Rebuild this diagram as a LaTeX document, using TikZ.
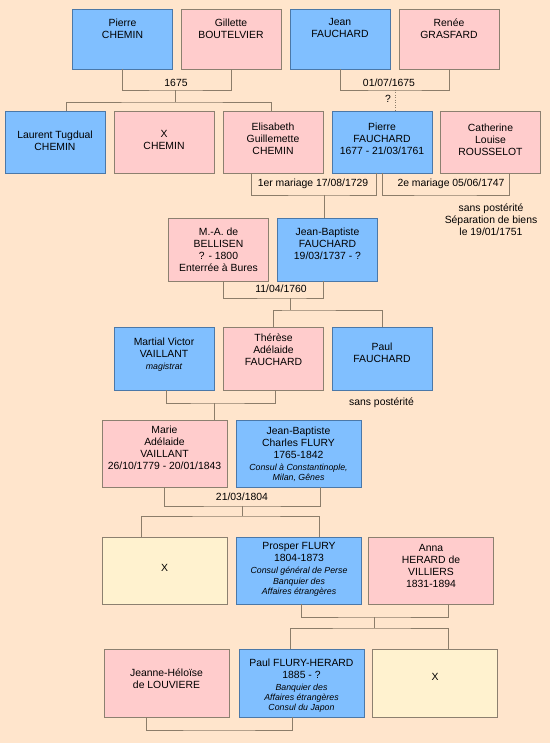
\documentclass[tikz,border=0pt]{standalone}
\usepackage{fontspec}
\setmainfont{Liberation Sans}
\usepackage{tikz}
\usetikzlibrary{positioning}

\definecolor{paper}{HTML}{FFE5CC}
\definecolor{manfill}{HTML}{80BFFF}
\definecolor{manline}{HTML}{4B78A8}
\definecolor{womanfill}{HTML}{FFCCCC}
\definecolor{nobodyfill}{HTML}{FFF2CF}
\definecolor{boxline}{HTML}{8C8070}
\definecolor{linkline}{HTML}{8C7D6A}

\newcommand{\metier}[1]{{\fontsize{8.8}{10.5}\selectfont\itshape #1}}

\begin{document}
\begin{tikzpicture}[
    x=1pt, y=-1pt,
    box/.style={draw=boxline, line width=0.9pt, inner sep=0pt, minimum width=100pt, minimum height=63pt},
    wide/.style={minimum width=125pt, minimum height=67pt},
    man/.style={box, fill=manfill, draw=manline},
    woman/.style={box, fill=womanfill},
    nobody/.style={box, fill=nobodyfill},
    who/.style={font=\fontsize{10.4}{12}\selectfont, align=center, inner sep=0pt},
    when/.style={font=\fontsize{10.4}{12}\selectfont, inner sep=0pt},
    link/.style={draw=linkline, line width=0.9pt}
]

\fill[paper] (0,0) rectangle (550,743);

% generation 1
\node[man, minimum height=60pt] (pchemin) at (122.5,39) {};
\node[woman, minimum height=60pt] (gboutel) at (231,39) {};
\node[man, minimum height=60pt] (jfauch) at (340,39) {};
\node[woman, minimum height=60pt] (rgrasf) at (449,39) {};
\node[who, below=10pt of pchemin.north] (pchemin-t) {Pierre\\CHEMIN};
\node[who, below=10pt of gboutel.north] (gboutel-t) {Gillette\\BOUTELVIER};
\node[who, below=10pt of jfauch.north] (jfauch-t) {Jean\\FAUCHARD};
\node[who, below=10pt of rgrasf.north] (rgrasf-t) {Renée\\GRASFARD};

% generation 2
\node[man, minimum height=62pt] (ltchemin) at (55,142) {};
\node[woman, minimum height=62pt] (xchemin) at (164,142) {};
\node[woman, minimum height=62pt] (egchemin) at (273,142) {};
\node[man, minimum height=62pt] (pfauch) at (382,142) {};
\node[woman, minimum height=62pt] (clrouss) at (490.5,142) {};
\node[who, below=20pt of ltchemin.north] (ltchemin-t) {Laurent Tugdual\\CHEMIN};
\node[who, below=19.5pt of xchemin.north] (xchemin-t) {X\\CHEMIN};
\node[who, below=12pt of egchemin.north] (egchemin-t) {Elisabeth\\Guillemette\\CHEMIN};
\node[who, below=12pt of pfauch.north] (pfauch-t) {Pierre\\FAUCHARD\\1677 - 21/03/1761};
\node[who, below=13.5pt of clrouss.north] (clrouss-t) {Catherine\\Louise\\ROUSSELOT};

% generation 3
\node[woman] (mabell) at (218.5,249.5) {};
\node[man] (jbfauch) at (327.5,249.5) {};
\node[who, below=10.5pt of mabell.north] (mabell-t) {M.-A. de\\BELLISEN\\? - 1800\\Enterrée à Bures};
\node[who, below=10pt of jbfauch.north] (jbfauch-t) {Jean-Baptiste\\FAUCHARD\\19/03/1737 - ?};

% generation 4
\node[man] (mvvaill) at (164,358.5) {};
\node[woman] (tafauch) at (273.5,358.5) {};
\node[man] (paulf) at (382,358.5) {};
\node[who, below=11.5pt of mvvaill.north] (mvvaill-t) {Martial Victor\\VAILLANT\\\metier{magistrat}};
\node[who, below=7.5pt of tafauch.north] (tafauch-t) {Thérèse\\Adélaide\\FAUCHARD};
\node[who, below=16.5pt of paulf.north] (paulf-t) {Paul\\FAUCHARD};

% generation 5
\node[woman, wide] (mavaill) at (164.5,453.5) {};
\node[man, wide] (jbcflury) at (298.5,453.5) {};
\node[who, below=6pt of mavaill.north] (mavaill-t) {Marie\\Adélaide\\VAILLANT\\26/10/1779 - 20/01/1843};
\node[who, below=7pt of jbcflury.north] (jbcflury-t) {Jean-Baptiste\\Charles FLURY\\1765-1842\\\metier{Consul à Constantinople,}\\[-1.7pt]\metier{Milan, Gênes}};

% generation 6
\node[nobody, wide] (xflury) at (164.5,570.5) {};
\node[man, wide] (pflury) at (299,570.5) {};
\node[woman, wide] (ahvill) at (431,570.5) {};
\node[who, below=27.5pt of xflury.north] (xflury-t) {X};
\node[who, below=6pt of pflury.north] (pflury-t) {Prosper FLURY\\1804-1873\\\metier{Consul général de Perse}\\[-1.7pt]\metier{Banquier des}\\[-1.7pt]\metier{Affaires étrangères}};
\node[who, below=7.5pt of ahvill.north] (ahvill-t) {Anna\\HERARD de\\VILLIERS\\1831-1894};

% generation 7
\node[woman, wide, minimum height=68pt] (jhlouv) at (166.5,683) {};
\node[man, wide, minimum height=68pt] (pfherard) at (301.5,683) {};
\node[nobody, wide, minimum height=68pt] (xherard) at (435,683) {};
\node[who, below=20.5pt of jhlouv.north] (jhlouv-t) {Jeanne-Héloïse\\de LOUVIERE};
\node[who, below=10pt of pfherard.north] (pfherard-t) {Paul FLURY-HERARD\\1885 - ?\\\metier{Banquier des}\\[-1.7pt]\metier{Affaires étrangères}\\[-1.7pt]\metier{Consul du Japon}};
\node[who, below=25pt of xherard.north] (xherard-t) {X};

% unions
\coordinate (m1) at (175,90);
\coordinate (k1) at (175,102);
\draw[link] (pchemin.south) |- (m1) -| (gboutel.south);
\draw[link] (m1) -- (k1);
\draw[link] ([xshift=11pt]ltchemin.north) |- (k1) -| ([xshift=-2pt]egchemin.north);
\node[when] (m1-t) at (176,83) {1675};

\coordinate (m2) at (395,90);
\draw[link] (jfauch.south) |- (m2) -| (rgrasf.south);
\draw[link, dash pattern=on 1pt off 1.5pt] (m2) -- (m2 |- pfauch.north);
\node[when] (m2-t) at (389,83) {01/07/1675};
\node[when] (m2-q) at (388,99) {?};

\coordinate (m3) at (324,195);
\draw[link] ([xshift=-22pt]egchemin.south) |- (m3) -| ([xshift=-6pt]pfauch.south);
\draw[link] (m3) -- (m3 |- jbfauch.north);
\node[when] (m3-t) at (313,184) {1er mariage 17/08/1729};

\coordinate (m3b) at (445,195);
\draw[link] (pfauch.south) |- (m3b) -| ([xshift=18.5pt]clrouss.south);
\node[when] (m3b-t) at (451,184) {2e mariage 05/06/1747};
\node[who] (clrouss-n) at (491,219.5) {sans postérité\\Séparation de biens\\le 19/01/1751};

\coordinate (m4) at (290,298);
\coordinate (k4) at (290,310);
\draw[link] ([xshift=4.5pt]mabell.south) |- (m4) -| ([xshift=-4.5pt]jbfauch.south);
\draw[link] (m4) -- (k4);
\draw[link] (tafauch.north) |- (k4) -| (paulf.north);
\node[when] (m4-t) at (281,289) {11/04/1760};
\node[when] (paulf-n) at (381.5,403) {sans postérité};

\coordinate (m5) at (214.5,403);
\draw[link] ([xshift=2pt]mvvaill.south) |- (m5) -| ([xshift=1.5pt]tafauch.south);
\draw[link] (m5) -- (m5 |- mavaill.north);

\coordinate (m6) at (242,506);
\coordinate (k6) at (242,516);
\draw[link] (mavaill.south) |- (m6) -| ([xshift=21.5pt]jbcflury.south);
\draw[link] (m6) -- (k6);
\draw[link] ([xshift=-23.5pt]xflury.north) |- (k6) -| ([xshift=20pt]pflury.north);
\node[when] (m6-t) at (242,497) {21/03/1804};

\coordinate (m7) at (374,617);
\coordinate (k7) at (374,628);
\draw[link] ([xshift=2pt]pflury.south) |- (m7) -| ([xshift=17pt]ahvill.south);
\draw[link] (m7) -- (k7);
\draw[link] ([xshift=-11.5pt]pfherard.north) |- (k7) -| ([xshift=13.5pt]xherard.north);

\coordinate (m8) at (219,730);
\draw[link] ([xshift=-20.5pt]jhlouv.south) |- (m8) -| ([xshift=-9.5pt]pfherard.south);

\end{tikzpicture}
\end{document}
